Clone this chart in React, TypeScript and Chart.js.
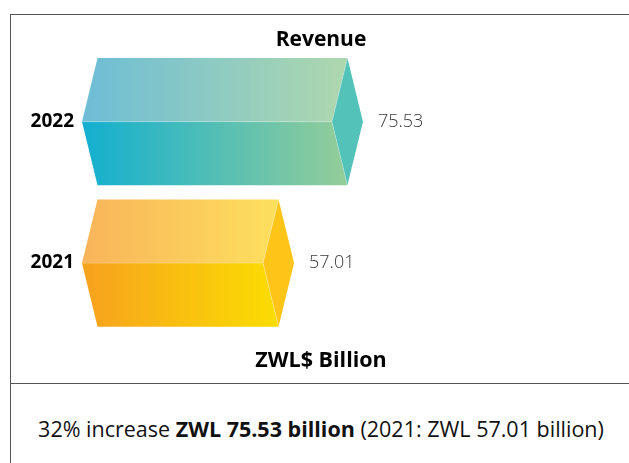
import React, { useEffect, useRef } from "react";
import { Chart, registerables } from "chart.js";

Chart.register(...registerables);

const categories = ["2022", "2021"];
const revenue = [75.53, 57.01];
const valueLabels = ["75.53", "57.01"];
const chartTitle = "Revenue";
const unitLabel = "ZWL$ Billion";

const FONT = "'Open Sans', 'Noto Sans', sans-serif";

const palettes = [
  { topL: "#6dbdd6", topR: "#b2d9ab", botL: "#12afd0", botR: "#9ccf96", end: "#53c2b9" },
  { topL: "#f9b45a", topR: "#fde35e", botL: "#f7a11e", botR: "#fbe200", end: "#fec518" },
];

const prismPlugin = {
  id: "prism",
  afterDatasetsDraw(chart: any) {
    const ctx = chart.ctx;
    const meta = chart.getDatasetMeta(0);
    meta.data.forEach((bar: any, i: number) => {
      const { x, y, base, height } = bar.getProps(["x", "y", "base", "height"], true);
      const p = palettes[i % palettes.length];
      const top = y - height / 2;
      const bot = y + height / 2;
      const bev = height * 0.122;
      const ridge = x - 2 * bev;
      ctx.save();
      let g = ctx.createLinearGradient(base, 0, x, 0);
      g.addColorStop(0, p.topL);
      g.addColorStop(1, p.topR);
      ctx.fillStyle = g;
      ctx.beginPath();
      ctx.moveTo(base, y);
      ctx.lineTo(base + bev, top);
      ctx.lineTo(x - bev, top);
      ctx.lineTo(ridge, y);
      ctx.closePath();
      ctx.fill();
      g = ctx.createLinearGradient(base, 0, x, 0);
      g.addColorStop(0, p.botL);
      g.addColorStop(1, p.botR);
      ctx.fillStyle = g;
      ctx.beginPath();
      ctx.moveTo(base, y);
      ctx.lineTo(ridge, y);
      ctx.lineTo(x - bev, bot);
      ctx.lineTo(base + bev, bot);
      ctx.closePath();
      ctx.fill();
      ctx.fillStyle = p.end;
      ctx.beginPath();
      ctx.moveTo(ridge, y);
      ctx.lineTo(x - bev, top);
      ctx.lineTo(x, y);
      ctx.lineTo(x - bev, bot);
      ctx.closePath();
      ctx.fill();
      ctx.strokeStyle = "rgba(255,255,255,0.35)";
      ctx.lineWidth = 0.8;
      ctx.beginPath();
      ctx.moveTo(base, y);
      ctx.lineTo(ridge, y);
      ctx.lineTo(x - bev, top);
      ctx.moveTo(ridge, y);
      ctx.lineTo(x - bev, bot);
      ctx.stroke();
      ctx.fillStyle = "#3a3a3a";
      ctx.font = `300 18px ${FONT}`;
      ctx.textAlign = "left";
      ctx.textBaseline = "middle";
      ctx.fillText(valueLabels[i], x + 15, y);
      ctx.restore();
    });
  },
};

export default function App() {
  const ref = useRef<HTMLCanvasElement | null>(null);
  useEffect(() => {
    if (!ref.current) return;
    const chart = new Chart(ref.current, {
      type: "bar",
      data: {
        labels: categories,
        datasets: [
          {
            data: revenue,
            backgroundColor: "rgba(0,0,0,0)",
            borderWidth: 0,
            barPercentage: 1,
            categoryPercentage: 0.9,
          },
        ],
      },
      options: {
        indexAxis: "y",
        animation: false,
        responsive: false,
        devicePixelRatio: 1,
        layout: { padding: { left: 0, right: 69, top: 0, bottom: 0 } },
        plugins: {
          legend: { display: false },
          tooltip: { enabled: false },
          title: {
            display: true,
            text: chartTitle,
            fullSize: false,
            color: "#000",
            font: { family: FONT, size: 21, weight: "bold", lineHeight: 1.0 },
            padding: { top: 30, bottom: 0 },
          },
        },
        scales: {
          x: {
            min: 0,
            max: 128.5,
            grid: { display: false, drawTicks: false },
            border: { display: false },
            ticks: { display: false },
            title: {
              display: true,
              text: unitLabel,
              color: "#000",
              font: { family: FONT, size: 21.5, weight: "bold", lineHeight: 1.15 },
              padding: { top: 14.5, bottom: 10 },
            },
          },
          y: {
            grid: { display: false, drawTicks: false },
            border: { display: false },
            ticks: {
              color: "#000",
              padding: 8,
              font: { family: FONT, size: 19, weight: "bold" },
            },
            afterFit(scale: any) {
              scale.width = 82;
            },
          },
        },
      },
      plugins: [prismPlugin],
    } as any);
    return () => chart.destroy();
  }, []);

  return (
    <div
      style={{
        position: "fixed",
        left: 0,
        top: 0,
        width: 629,
        height: 463,
        overflow: "hidden",
        background: "#fff",
        fontFamily: FONT,
      }}
    >
      <div
        style={{
          position: "absolute",
          left: 10,
          top: 14,
          width: 700,
          height: 500,
          borderLeft: "1px solid #555",
          borderTop: "1px solid #555",
        }}
      />
      <div
        style={{
          position: "absolute",
          left: 10,
          top: 383,
          width: 700,
          height: 1,
          background: "#555",
        }}
      />
      <canvas
        ref={ref}
        width={629}
        height={383}
        style={{ position: "absolute", left: 0, top: 0, width: 629, height: 383 }}
      />
      <div
        style={{
          position: "absolute",
          left: 10,
          width: 622,
          top: 416,
          lineHeight: "26px",
          fontSize: 21.5,
          textAlign: "center",
          color: "#111",
          whiteSpace: "nowrap",
        }}
      >
        32% increase <b>ZWL 75.53 billion</b> (2021: ZWL 57.01 billion)
      </div>
    </div>
  );
}
